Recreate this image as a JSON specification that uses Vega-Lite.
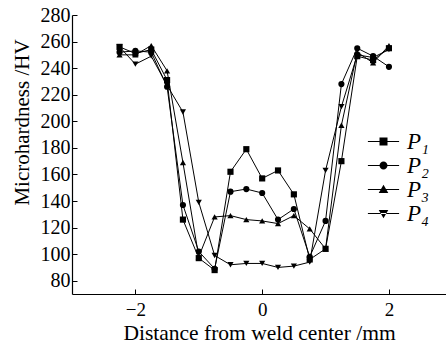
{
  "$schema": "https://vega.github.io/schema/vega-lite/v6.json",
  "width": 374,
  "height": 279,
  "autosize": "none",
  "padding": {"left": 72, "top": 15, "right": 0, "bottom": 49},
  "background": "white",
  "config": {
    "view": {"stroke": null},
    "font": "Liberation Serif",
    "axis": {
      "domainColor": "black",
      "tickColor": "black",
      "labelColor": "black",
      "titleColor": "black",
      "labelFont": "Liberation Serif",
      "titleFont": "Liberation Serif",
      "labelFontSize": 20,
      "titleFontSize": 21,
      "titleFontWeight": "normal",
      "grid": false,
      "tickSize": -5,
      "domainWidth": 1.2,
      "tickWidth": 1
    }
  },
  "data": {
    "values": [
      {"x": -2.25, "hv": 256, "s": "P₁"}, {"x": -2.0, "hv": 251, "s": "P₁"}, {"x": -1.75, "hv": 254, "s": "P₁"}, {"x": -1.5, "hv": 231, "s": "P₁"}, {"x": -1.25, "hv": 126, "s": "P₁"}, {"x": -1.0, "hv": 97, "s": "P₁"}, {"x": -0.75, "hv": 88, "s": "P₁"}, {"x": -0.5, "hv": 162, "s": "P₁"}, {"x": -0.25, "hv": 179, "s": "P₁"}, {"x": 0.0, "hv": 157, "s": "P₁"}, {"x": 0.25, "hv": 163, "s": "P₁"}, {"x": 0.5, "hv": 145, "s": "P₁"}, {"x": 0.75, "hv": 96, "s": "P₁"}, {"x": 1.0, "hv": 104, "s": "P₁"}, {"x": 1.25, "hv": 170, "s": "P₁"}, {"x": 1.5, "hv": 249, "s": "P₁"}, {"x": 1.75, "hv": 246, "s": "P₁"}, {"x": 2.0, "hv": 255, "s": "P₁"},
      {"x": -2.25, "hv": 252, "s": "P₂"}, {"x": -2.0, "hv": 253, "s": "P₂"}, {"x": -1.75, "hv": 252, "s": "P₂"}, {"x": -1.5, "hv": 226, "s": "P₂"}, {"x": -1.25, "hv": 137, "s": "P₂"}, {"x": -1.0, "hv": 102, "s": "P₂"}, {"x": -0.75, "hv": 89, "s": "P₂"}, {"x": -0.5, "hv": 147, "s": "P₂"}, {"x": -0.25, "hv": 149, "s": "P₂"}, {"x": 0.0, "hv": 146, "s": "P₂"}, {"x": 0.25, "hv": 126, "s": "P₂"}, {"x": 0.5, "hv": 134, "s": "P₂"}, {"x": 0.75, "hv": 98, "s": "P₂"}, {"x": 1.0, "hv": 125, "s": "P₂"}, {"x": 1.25, "hv": 228, "s": "P₂"}, {"x": 1.5, "hv": 255, "s": "P₂"}, {"x": 1.75, "hv": 249, "s": "P₂"}, {"x": 2.0, "hv": 241, "s": "P₂"},
      {"x": -2.25, "hv": 250, "s": "P₃"}, {"x": -2.0, "hv": 250, "s": "P₃"}, {"x": -1.75, "hv": 257, "s": "P₃"}, {"x": -1.5, "hv": 238, "s": "P₃"}, {"x": -1.25, "hv": 169, "s": "P₃"}, {"x": -1.0, "hv": 98, "s": "P₃"}, {"x": -0.75, "hv": 128, "s": "P₃"}, {"x": -0.5, "hv": 129, "s": "P₃"}, {"x": -0.25, "hv": 126, "s": "P₃"}, {"x": 0.0, "hv": 125, "s": "P₃"}, {"x": 0.25, "hv": 123, "s": "P₃"}, {"x": 0.5, "hv": 129, "s": "P₃"}, {"x": 0.75, "hv": 119, "s": "P₃"}, {"x": 1.0, "hv": 104, "s": "P₃"}, {"x": 1.25, "hv": 197, "s": "P₃"}, {"x": 1.5, "hv": 252, "s": "P₃"}, {"x": 1.75, "hv": 244, "s": "P₃"}, {"x": 2.0, "hv": 257, "s": "P₃"},
      {"x": -2.25, "hv": 256, "s": "P₄"}, {"x": -2.0, "hv": 243, "s": "P₄"}, {"x": -1.75, "hv": 249, "s": "P₄"}, {"x": -1.5, "hv": 227, "s": "P₄"}, {"x": -1.25, "hv": 207, "s": "P₄"}, {"x": -1.0, "hv": 139, "s": "P₄"}, {"x": -0.75, "hv": 99, "s": "P₄"}, {"x": -0.5, "hv": 92, "s": "P₄"}, {"x": -0.25, "hv": 93, "s": "P₄"}, {"x": 0.0, "hv": 93, "s": "P₄"}, {"x": 0.25, "hv": 90, "s": "P₄"}, {"x": 0.5, "hv": 91, "s": "P₄"}, {"x": 0.75, "hv": 94, "s": "P₄"}, {"x": 1.0, "hv": 163, "s": "P₄"}, {"x": 1.25, "hv": 211, "s": "P₄"}, {"x": 1.5, "hv": 250, "s": "P₄"}, {"x": 1.75, "hv": 248, "s": "P₄"}, {"x": 2.0, "hv": 254, "s": "P₄"}
    ]
  },
  "encoding": {
    "x": {
      "field": "x", "type": "quantitative",
      "scale": {"domain": [-3, 2.9], "nice": false, "zero": false},
      "axis": {"values": [-2, 0, 2], "title": "Distance from weld center /mm", "labelFontSize": 19, "titleFontSize": 21.5, "labelPadding": 11, "titleY": 45, "titleBaseline": "alphabetic"}
    },
    "y": {
      "field": "hv", "type": "quantitative",
      "scale": {"domain": [70, 280], "nice": false, "zero": false},
      "axis": {"values": [80, 100, 120, 140, 160, 180, 200, 220, 240, 260, 280], "title": "Microhardness /HV", "labelPadding": 7, "titleX": -50, "titleY": 107, "titleBaseline": "middle"}
    }
  },
  "resolve": {"scale": {"shape": "independent"}, "legend": {"shape": "independent"}},
  "layer": [
    {
      "mark": {"type": "line", "color": "black", "strokeWidth": 1},
      "encoding": {"detail": {"field": "s"}}
    },
    {
      "mark": {"type": "point", "filled": true, "color": "black", "opacity": 1, "size": 38},
      "encoding": {
        "shape": {
          "field": "s", "type": "nominal",
          "scale": {"domain": ["P₁", "P₂", "P₃", "P₄"], "range": ["square", "circle", "triangle-up", "triangle-down"]},
          "legend": null
        }
      }
    },
    {
      "mark": {"type": "point", "filled": true, "color": "black", "opacity": 0, "size": 64},
      "encoding": {
        "shape": {
          "field": "s", "type": "nominal",
          "scale": {"domain": ["P₁", "P₂", "P₃", "P₄"], "range": ["M-3.9,-0.13H3.9V0.13H-3.9ZM-1,-1H1V1H-1Z", "M-3.9,-0.13H3.9V0.13H-3.9ZM-1,0A1,1,0,1,1,1,0A1,1,0,1,1,-1,0Z", "M-3.9,-0.13H3.9V0.13H-3.9ZM0,-1.2L1.2,0.9L-1.2,0.9Z", "M-3.9,-0.13H3.9V0.13H-3.9ZM0,1.2L1.2,-0.9L-1.2,-0.9Z"]},
          "legend": {
            "title": null,
            "orient": "none",
            "legendX": 300,
            "legendY": 115,
            "padding": 0,
            "symbolSize": 64,
            "labelOffset": 12,
            "rowPadding": 0,
            "labelFont": "Liberation Serif",
            "labelFontStyle": "italic",
            "labelFontSize": 23,
            "labelColor": "black",
            "symbolFillColor": "black",
            "symbolStrokeColor": "black",
            "symbolStrokeWidth": 0,
            "symbolOpacity": 1
          }
        }
      }
    }
  ]
}
